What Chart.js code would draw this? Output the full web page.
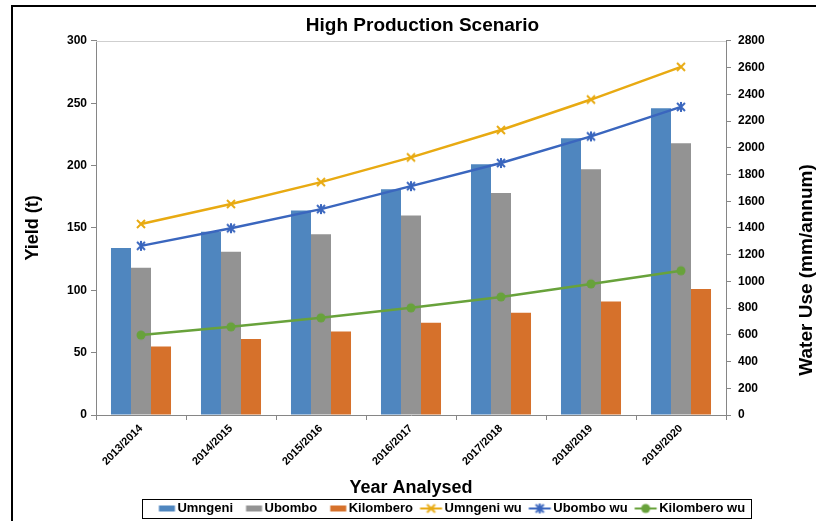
<!DOCTYPE html>
<html>
<head>
<meta charset="utf-8">
<script src="https://cdn.jsdelivr.net/npm/chart.js@4.4.1/dist/chart.umd.min.js"></script>
<style>
  body { margin: 0; background: #fff; }
  #wrap { position: relative; width: 816px; height: 521px; overflow: hidden; background: #fff; }
  #grafico { position: absolute; left: 0; top: 0; }
  #frame { position: absolute; left: 11px; top: 5px; width: 900px; height: 600px;
           border-left: 2px solid #000; border-top: 2px solid #000; pointer-events: none; }
</style>
</head>
<body>
<div id="wrap">
  <canvas id="grafico" width="816" height="521"></canvas>
  <div id="frame"></div>
</div>
<script>
// dados
const anos = ['2013/2014', '2014/2015', '2015/2016', '2016/2017', '2017/2018', '2018/2019', '2019/2020'];
const umngeni = [134, 147, 164, 181, 201, 222, 246];
const ubombo = [118, 131, 145, 160, 178, 197, 218];
const kilombero = [55, 61, 67, 74, 82, 91, 101];
const umngeniWu = [1430, 1579, 1743, 1928, 2133, 2361, 2606];
const ubomboWu = [1266, 1398, 1541, 1713, 1886, 2085, 2306];
const kilomberoWu = [598, 660, 727, 802, 884, 981, 1080];
const ticksYield = [0, 50, 100, 150, 200, 250, 300];
const ticksWater = [0, 200, 400, 600, 800, 1000, 1200, 1400, 1600, 1800, 2000, 2200, 2400, 2600, 2800];

// cores
const corUmngeni = '#4F86BF';
const corUbombo = '#939393';
const corKilombero = '#D6712B';
const corUmngeniWu = '#E8AA12';
const corUbomboWu = '#3A66BE';
const corKilomberoWu = '#68A23B';

Chart.defaults.font.family = '"Liberation Sans", Arial, sans-serif';
Chart.defaults.color = '#000';

// desenha um marcador num canvas pequeno
function marcador(tipo, cor) {
    const c = document.createElement('canvas');
    c.width = 14; c.height = 14;
    const g = c.getContext('2d');
    g.strokeStyle = cor; g.fillStyle = cor; g.lineWidth = 2;
    if (tipo === 'x' || tipo === 'estrela') {
        g.beginPath();
        g.moveTo(3, 3); g.lineTo(11, 11);
        g.moveTo(11, 3); g.lineTo(3, 11);
        if (tipo === 'estrela') { g.moveTo(7, 2); g.lineTo(7, 12); }
        g.stroke();
    } else {
        g.beginPath(); g.arc(7, 7, 4.5, 0, Math.PI * 2); g.fill();
    }
    return c;
}

// símbolo da legenda (barra ou linha com marcador)
const larguraCaixa = 21;
function simbolo(tipo, cor) {
    const c = document.createElement('canvas');
    c.width = larguraCaixa * 2; c.height = 14;
    const g = c.getContext('2d');
    const fim = larguraCaixa * 1.5 + 4;
    if (tipo === 'barra') {
        g.fillStyle = cor;
        g.fillRect(fim - 16, 4, 16, 6);
    } else {
        g.strokeStyle = cor; g.lineWidth = 2;
        g.beginPath(); g.moveTo(fim - 22, 7); g.lineTo(fim, 7); g.stroke();
        g.drawImage(marcador(tipo, cor), fim - 11 - 7, 0);
    }
    return c;
}

const simbolos = [
    simbolo('barra', corUmngeni),
    simbolo('barra', corUbombo),
    simbolo('barra', corKilombero),
    simbolo('x', corUmngeniWu),
    simbolo('estrela', corUbomboWu),
    simbolo('circulo', corKilomberoWu)
];

const molduraPlugin = {
    id: 'moldura',
    afterLayout(chart) {
        const lg = chart.legend;
        lg.left += 33; lg.right += 33;
        lg.top += 4; lg.bottom += 4;
        const t = chart.titleBlock;
        t.left += 8; t.right += 8;
    },
    afterDraw(chart) {
        const ctx = chart.ctx;
        const a = chart.chartArea;
        ctx.save();
        // borda superior da área do gráfico
        ctx.strokeStyle = '#cfcfcf';
        ctx.lineWidth = 1;
        ctx.beginPath();
        ctx.moveTo(a.left, Math.round(a.top) + 0.5);
        ctx.lineTo(a.right, Math.round(a.top) + 0.5);
        ctx.stroke();

        // caixa da legenda
        const lg = chart.legend;
        const pad = lg.options.labels.padding;
        const fs = lg.options.labels.font.size;
        const x0 = (lg.left + pad + lg.right - lg.lineWidths[0]) / 2;
        const x1 = x0 + lg.lineWidths[0] - pad;
        const yc = lg.top + pad + fs / 2;
        ctx.strokeStyle = '#000';
        ctx.lineWidth = 1;
        ctx.strokeRect(Math.round(x0 - 8) + 0.5, Math.round(yc - 10) + 0.5, Math.round(x1 - x0 + 14), 19);

        // título do eixo da direita, lido de baixo para cima
        const d = chart.scales.y1;
        ctx.fillStyle = '#000';
        ctx.font = 'bold 19px "Liberation Sans", Arial, sans-serif';
        ctx.textAlign = 'center';
        ctx.textBaseline = 'middle';
        ctx.translate(d.right - 9, (a.top + a.bottom) / 2 + 42);
        ctx.rotate(-Math.PI / 2);
        ctx.fillText('Water Use (mm/annum)', 0, 0);
        ctx.restore();
    }
};

const fonteTick = { size: 12, weight: 'bold' };

const ctx = document.getElementById('grafico').getContext('2d');
const grafico = new Chart(ctx, {
    type: 'bar',
    data: {
        labels: anos,
        datasets: [
            { label: 'Umngeni', data: umngeni, backgroundColor: corUmngeni, yAxisID: 'y', order: 1,
              categoryPercentage: 0.667, barPercentage: 1 },
            { label: 'Ubombo', data: ubombo, backgroundColor: corUbombo, yAxisID: 'y', order: 1,
              categoryPercentage: 0.667, barPercentage: 1 },
            { label: 'Kilombero', data: kilombero, backgroundColor: corKilombero, yAxisID: 'y', order: 1,
              categoryPercentage: 0.667, barPercentage: 1 },
            { type: 'line', label: 'Umngeni wu', data: umngeniWu, yAxisID: 'y1', order: 0,
              borderColor: corUmngeniWu, backgroundColor: corUmngeniWu, borderWidth: 2.5,
              pointStyle: marcador('x', corUmngeniWu) },
            { type: 'line', label: 'Ubombo wu', data: ubomboWu, yAxisID: 'y1', order: 0,
              borderColor: corUbomboWu, backgroundColor: corUbomboWu, borderWidth: 2.5,
              pointStyle: marcador('estrela', corUbomboWu) },
            { type: 'line', label: 'Kilombero wu', data: kilomberoWu, yAxisID: 'y1', order: 0,
              borderColor: corKilomberoWu, backgroundColor: corKilomberoWu, borderWidth: 2.5,
              pointStyle: marcador('circulo', corKilomberoWu) }
        ]
    },
    options: {
        responsive: false,
        animation: false,
        layout: { padding: { left: 13, right: 0, top: 7, bottom: 0 } },
        plugins: {
            title: {
                display: true,
                text: 'High Production Scenario',
                font: { size: 19, weight: 'bold', lineHeight: 1.1 },
                color: '#000',
                padding: { top: 8.5, bottom: 4.5 }
            },
            legend: {
                position: 'bottom',
                labels: {
                    usePointStyle: true,
                    pointStyleWidth: larguraCaixa,
                    padding: 4,
                    font: { size: 13, weight: 'bold' },
                    color: '#000',
                    generateLabels: chart => chart.data.datasets.map((ds, i) => ({
                        text: ds.label,
                        pointStyle: simbolos[i],
                        fillStyle: 'transparent',
                        strokeStyle: 'transparent',
                        lineWidth: 0,
                        fontColor: '#000',
                        datasetIndex: i
                    }))
                }
            },
            tooltip: { enabled: false }
        },
        scales: {
            x: {
                grid: { drawOnChartArea: false, drawTicks: true, tickLength: 5, color: '#868686', offset: true },
                border: { color: '#868686' },
                ticks: { font: { size: 11, weight: 'bold' }, maxRotation: 45, minRotation: 45, padding: 2, color: '#000' },
                title: { display: true, text: 'Year Analysed', font: { size: 18, weight: 'bold', lineHeight: 1 },
                         padding: { top: 0, bottom: -3 }, color: '#000' },
                afterFit: s => { s.height = 79; }
            },
            y: {
                position: 'left',
                min: 0, max: 300,
                afterBuildTicks: s => { s.ticks = ticksYield.map(v => ({ value: v })); },
                grid: { drawOnChartArea: false, drawTicks: true, tickLength: 5, color: '#868686' },
                border: { color: '#868686' },
                ticks: { font: fonteTick, padding: 4, color: '#000', callback: v => String(v) },
                title: { display: true, text: 'Yield (t)', font: { size: 18, weight: 'bold' },
                         padding: { top: 9, bottom: 0 }, color: '#000' },
                afterFit: s => { s.width = 83; }
            },
            y1: {
                position: 'right',
                min: 0, max: 2800,
                afterBuildTicks: s => { s.ticks = ticksWater.map(v => ({ value: v })); },
                grid: { drawOnChartArea: false, drawTicks: true, tickLength: 5, color: '#868686' },
                border: { color: '#868686' },
                ticks: { font: fonteTick, padding: 7, color: '#000', callback: v => String(v) },
                afterFit: s => { s.width = 90; }
            }
        }
    },
    plugins: [molduraPlugin]
});
</script>
</body>
</html>
